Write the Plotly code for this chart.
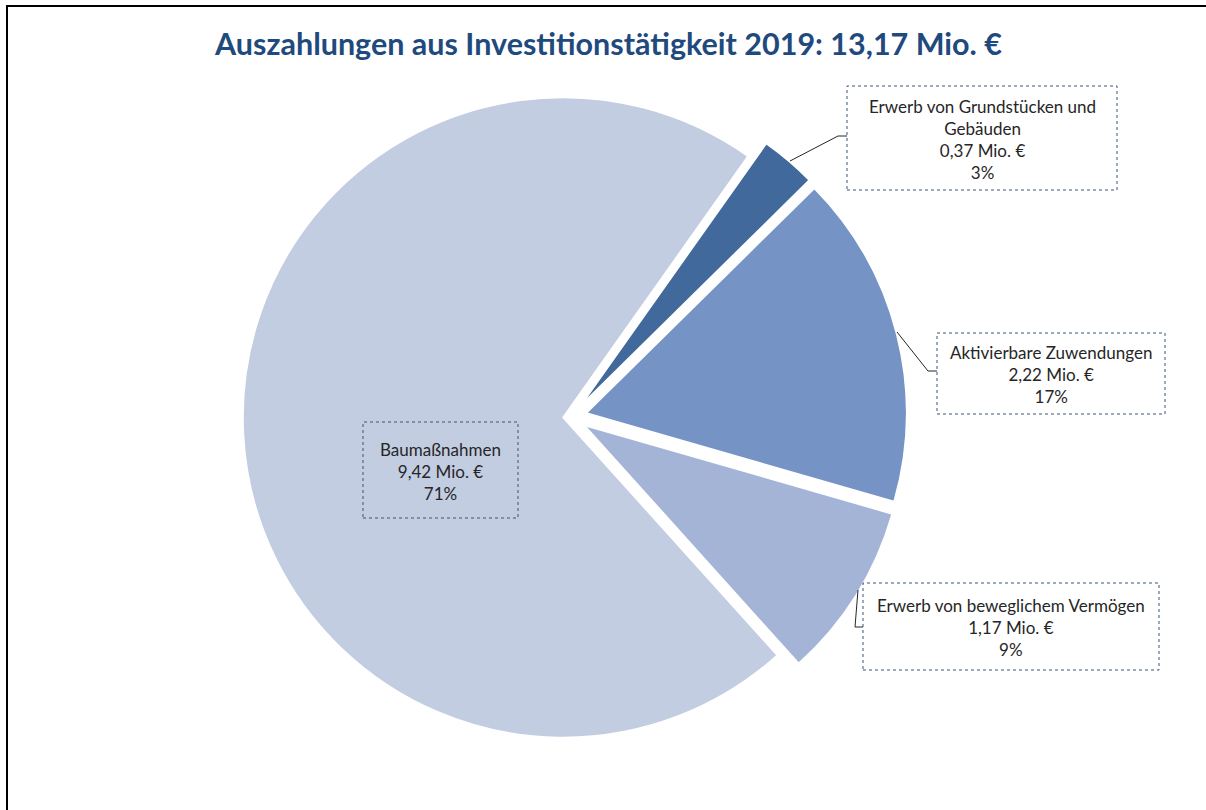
import plotly.graph_objects as go

W, H = 1206, 810

# ---- data ----
labels = ["Baumaßnahmen", "Erwerb von Grundstücken und Gebäuden",
          "Aktivierbare Zuwendungen", "Erwerb von beweglichem Vermögen"]
label_lines = [["Baumaßnahmen"], ["Erwerb von Grundstücken und", "Gebäuden"],
               ["Aktivierbare Zuwendungen"], ["Erwerb von beweglichem Vermögen"]]
values = [9.42, 0.37, 2.22, 1.17]          # Mio. €
percents = [71, 3, 17, 9]                  # %
total_text = "13,17"
colors = ["#C3CDE2", "#41699C", "#7594C5", "#A3B4D6"]
pulls = [0.025, 0.05, 0.05, 0.05]

# label box geometry in pixels (x0, y0, x1, y1)
boxes = [(363, 422, 518, 518), (847, 86, 1117, 190),
         (937, 333, 1165, 414), (863, 583, 1159, 670)]
# leader lines (pixel polylines), None for inside label
leaders = [None,
           [(790, 161), (838, 136), (847, 136)],
           [(897, 332), (928, 371), (937, 371)],
           [(858, 590), (855, 627), (863, 627)]]


def px(x):
    return x / W


def py(y):
    return 1 - y / H


def fmt(v):
    return f"{v:.2f}".replace(".", ",")


fig = go.Figure()
fig.add_trace(go.Pie(
    labels=labels, values=values, sort=False, direction="clockwise",
    rotation=138, pull=pulls, textinfo="none",
    marker=dict(colors=colors, line=dict(color="white", width=1.5)),
    domain=dict(x=[px(235), px(907)], y=[py(753), py(81)]),
    showlegend=False,
))

shapes = []
annotations = []
font_family = "Lato, 'Open Sans', sans-serif"
for i in range(len(labels)):
    x0, y0, x1, y1 = boxes[i]
    shapes.append(dict(type="rect", xref="paper", yref="paper",
                       x0=px(x0), x1=px(x1), y0=py(y1), y1=py(y0),
                       line=dict(color="#3B5378", width=1, dash="dot"),
                       fillcolor="rgba(0,0,0,0)"))
    lines = label_lines[i] + [f"{fmt(values[i])} Mio. €", f"{percents[i]}%"]
    annotations.append(dict(
        x=px((x0 + x1) / 2), y=py((y0 + y1) / 2 + 1), xref="paper", yref="paper",
        text="<br>".join(lines), showarrow=False, align="center",
        font=dict(family=font_family, size=17, color="#262626"),
        xanchor="center", yanchor="middle"))
    if leaders[i]:
        pts = leaders[i]
        for (ax, ay), (bx, by) in zip(pts[:-1], pts[1:]):
            shapes.append(dict(type="line", xref="paper", yref="paper",
                               x0=px(ax), y0=py(ay), x1=px(bx), y1=py(by),
                               line=dict(color="#262626", width=1)))

# chart frame (left and top border)
shapes.append(dict(type="line", xref="paper", yref="paper",
                   x0=px(7), y0=py(6), x1=px(7), y1=0,
                   line=dict(color="black", width=2)))
shapes.append(dict(type="line", xref="paper", yref="paper",
                   x0=px(6), y0=py(6), x1=1, y1=py(6),
                   line=dict(color="black", width=2)))

annotations.append(dict(
    x=px(608), y=py(43), xref="paper", yref="paper", showarrow=False,
    text=f"<b>Auszahlungen aus Investitionstätigkeit 2019: {total_text} Mio. €</b>",
    font=dict(family=font_family, size=30.5, color="#1F4A7D"),
    xanchor="center", yanchor="middle"))

fig.update_layout(
    width=W, height=H, margin=dict(l=0, r=0, t=0, b=0),
    paper_bgcolor="white", plot_bgcolor="white",
    shapes=shapes, annotations=annotations,
)

fig.write_html("out.html", config={"displayModeBar": False},
               post_script="document.body.style.margin='0';document.body.style.overflow='hidden';")
